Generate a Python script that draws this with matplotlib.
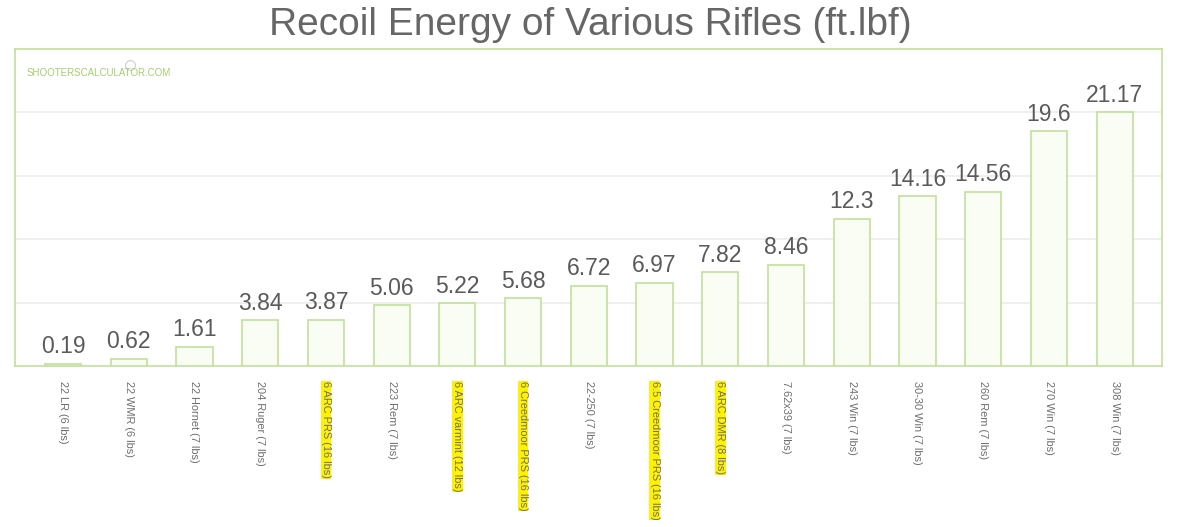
import numpy as np
import matplotlib.pyplot as plt

# data
rifles = ["22 LR (6 lbs)", "22 WMR (6 lbs)", "22 Hornet (7 lbs)", "204 Ruger (7 lbs)",
          "6 ARC PRS (16 lbs)", "223 Rem (7 lbs)", "6 ARC varmint (12 lbs)",
          "6 Creedmoor PRS (16 lbs)", "22-250 (7 lbs)", "6.5 Creedmoor PRS (16 lbs)",
          "6 ARC DMR (8 lbs)", "7.62x39 (7 lbs)", "243 Win (7 lbs)", "30-30 Win (7 lbs)",
          "260 Rem (7 lbs)", "270 Win (7 lbs)", "308 Win (7 lbs)"]
recoil = [0.19, 0.62, 1.61, 3.84, 3.87, 5.06, 5.22, 5.68, 6.72, 6.97, 7.82,
          8.46, 12.3, 14.16, 14.56, 19.6, 21.17]
highlighted = ["6 ARC PRS (16 lbs)", "6 ARC varmint (12 lbs)", "6 Creedmoor PRS (16 lbs)",
               "6.5 Creedmoor PRS (16 lbs)", "6 ARC DMR (8 lbs)"]

plt.rcParams['font.family'] = ['Liberation Sans', 'DejaVu Sans']

green = '#c2e09a'
fig = plt.figure(figsize=(11.81, 5.27), dpi=100)
ax = fig.add_axes([0.0127, 0.3055, 0.9712, 0.6015])

x = np.arange(len(rifles))
ax.bar(x, recoil, width=0.55, color='#f9fdf3', edgecolor=green, linewidth=1.2, zorder=3)

ymax = max(recoil) * 1.25
ax.set_ylim(0, ymax)
ax.set_xlim(-0.73, len(rifles) - 1 + 0.72)
ax.set_yticks(np.linspace(0, ymax, 6)[1:-1])
ax.set_yticklabels([])
ax.tick_params(axis='y', length=0)
ax.tick_params(axis='x', length=0, pad=11)
ax.grid(axis='y', color='#ececec', linewidth=1.2, zorder=0)

for s in ax.spines.values():
    s.set_color(green)
    s.set_linewidth(1.2)

# value labels above the bars
for xi, v in zip(x, recoil):
    ax.annotate(f"{v:g}", (xi, v), xytext=(0, 7.5), textcoords='offset points',
                ha='center', va='baseline', fontsize=16.5, color='#5a5a5a')

ax.set_xticks(x)
ax.set_xticklabels(rifles, rotation=270, fontsize=7.9, color='#6e6e6e', va='top')
for lbl in ax.get_xticklabels():
    if lbl.get_text() in highlighted:
        lbl.set_bbox(dict(facecolor='#fff200', edgecolor='none', pad=0.2))

ax.text(0.01, 0.925, "SHOOTERSCALCULATOR.COM", transform=ax.transAxes,
        fontsize=7, color='#a5cf72', family=['Liberation Sans Narrow', 'Liberation Sans'],
        va='center')
ax.plot([0.1], [0.95], transform=ax.transAxes, marker='o', ms=7, mfc='none',
        mec='#cccccc', mew=0.8)

fig.text(0.5, 1 - 35 / 527, "Recoil Energy of Various Rifles (ft.lbf)", ha='center',
         va='baseline', fontsize=28, color='#666666')

fig.savefig("out.png", dpi=100)
